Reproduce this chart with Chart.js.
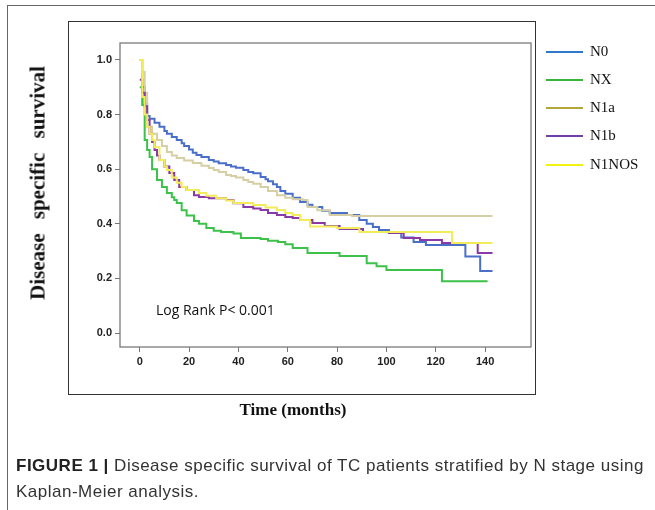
<!DOCTYPE html>
<html>
<head>
<meta charset="utf-8">
<script src="https://cdn.jsdelivr.net/npm/chart.js@4"></script>
<style>
  html, body { margin: 0; padding: 0; background: #fff; }
  #page { position: relative; width: 655px; height: 510px; overflow: hidden; }
  #chart { position: absolute; left: 0; top: 0; }
  .outer-top { position: absolute; left: 7px; top: 5px; width: 648px; height: 0; border-top: 1.5px solid #666; }
  .outer-left { position: absolute; left: 7px; top: 5px; width: 0; height: 505px; border-left: 1.5px solid #666; }
  .inner-frame { position: absolute; left: 68px; top: 21px; width: 466px; height: 372px; border: 1.5px solid #333; }
  .ytitle { position: absolute; left: 38px; top: 183px; transform: translate(-50%, -50%) rotate(-90deg);
    font: bold 21px "Liberation Serif", "Times New Roman", serif; word-spacing: 9px; white-space: nowrap; color: #111; }
  .xtitle { position: absolute; left: 293px; top: 410px; transform: translate(-50%, -50%);
    font: bold 17px "Liberation Serif", "Times New Roman", serif; white-space: nowrap; color: #111; }
  .logrank { position: absolute; left: 156px; top: 300px; font: 14px "Open Sans", sans-serif; color: #111; white-space: nowrap; }
  .legend { position: absolute; left: 546px; top: 0; }
  .legend .item { position: absolute; left: 0; width: 110px; height: 20px; }
  .legend .swatch { position: absolute; left: 0; top: 9px; width: 37px; height: 2px; }
  .legend .label { position: absolute; left: 44px; top: 1px; font: 15px "Liberation Serif", "Times New Roman", serif; color: #111; }
  .caption { position: absolute; left: 16px; top: 453px; width: 645px; font: 17px "Liberation Sans", Arial, sans-serif;
    letter-spacing: 0.5px; line-height: 26px; color: #333; white-space: nowrap; }
  .caption b { color: #222; }
</style>
</head>
<body>
<div id="page">
  <div class="outer-top"></div>
  <div class="outer-left"></div>
  <div class="inner-frame"></div>
  <canvas id="chart" width="655" height="510"></canvas>
  <div class="ytitle">Disease specific survival</div>
  <div class="xtitle">Time (months)</div>
  <div class="logrank">Log Rank P&lt; 0.001</div>
  <div class="legend" id="legend"></div>
  <div class="caption"><b>FIGURE 1 |</b> Disease specific survival of TC patients stratified by N stage using<br>Kaplan-Meier analysis.</div>
</div>
<script>
  "use strict";

  const xTicks = [0, 20, 40, 60, 80, 100, 120, 140];
  const yTicks = [0.0, 0.2, 0.4, 0.6, 0.8, 1.0];

  const seriesNames = ["N0", "NX", "N1a", "N1b", "N1NOS"];

  // (months, survival)
  const n0Time = [0, 1, 2, 3, 4, 6, 8, 10, 11, 13, 15, 17, 18, 20, 21.5, 23, 25, 28, 30, 32, 35, 37, 39, 42, 44, 46, 49, 51, 52, 54, 55.6, 57, 59, 62, 65, 68, 70, 74, 77, 84, 89, 92, 94.5, 97, 101, 106, 111, 116, 132, 138, 143];
  const n0Surv = [1.0, 0.9, 0.84, 0.795, 0.785, 0.77, 0.755, 0.74, 0.73, 0.718, 0.707, 0.695, 0.685, 0.672, 0.66, 0.652, 0.645, 0.634, 0.628, 0.622, 0.615, 0.61, 0.605, 0.597, 0.59, 0.585, 0.571, 0.563, 0.556, 0.545, 0.535, 0.52, 0.51, 0.495, 0.48, 0.47, 0.462, 0.448, 0.44, 0.432, 0.414, 0.4, 0.388, 0.377, 0.366, 0.35, 0.333, 0.322, 0.28, 0.227, 0.227];

  const nxTime = [0, 1, 2, 3, 4, 5, 7, 9, 11, 13, 14, 15, 17, 19, 22, 24, 27, 30, 33, 38, 41, 49, 52, 56, 59, 62, 68, 81, 92, 96, 100, 122.5, 141];
  const nxSurv = [0.9, 0.835, 0.707, 0.67, 0.645, 0.6, 0.56, 0.535, 0.513, 0.497, 0.487, 0.476, 0.45, 0.43, 0.41, 0.4, 0.385, 0.375, 0.37, 0.365, 0.348, 0.344, 0.338, 0.333, 0.325, 0.311, 0.293, 0.282, 0.256, 0.245, 0.231, 0.19, 0.19];

  const n1aTime = [0, 1, 2, 3, 5, 7, 9, 11, 13, 15, 18, 21.5, 25, 28, 30, 32, 35, 37, 39, 42, 44, 46, 49, 52, 55.6, 59, 62, 66, 68, 72, 77, 86, 143];
  const n1aSurv = [1.0, 0.956, 0.88, 0.755, 0.73, 0.707, 0.685, 0.663, 0.65, 0.641, 0.632, 0.623, 0.613, 0.604, 0.597, 0.59, 0.579, 0.575, 0.57, 0.56, 0.553, 0.547, 0.535, 0.52, 0.505, 0.495, 0.49, 0.487, 0.462, 0.45, 0.432, 0.429, 0.429];

  const n1bTime = [0, 1, 2, 3, 4, 5, 6, 7, 8, 10, 12, 14, 16, 19, 22, 24, 28, 35, 38, 42, 46, 49, 52, 55.6, 59, 62, 65, 70, 75, 81, 90.5, 101, 107, 113.6, 122.5, 137, 143];
  const n1bSurv = [0.927, 0.88, 0.83, 0.78, 0.73, 0.7, 0.67, 0.65, 0.634, 0.61, 0.586, 0.56, 0.535, 0.524, 0.505, 0.498, 0.494, 0.487, 0.475, 0.462, 0.456, 0.451, 0.44, 0.432, 0.425, 0.421, 0.414, 0.403, 0.392, 0.381, 0.37, 0.366, 0.348, 0.341, 0.33, 0.293, 0.293];

  const n1nosTime = [0, 1, 2, 3, 4, 5, 6, 8, 10, 11, 13, 15, 17, 19, 24, 27, 31, 35, 38, 46, 51, 55.6, 59, 62, 65, 69, 80, 89, 126.6, 143];
  const n1nosSurv = [1.0, 0.864, 0.8, 0.755, 0.73, 0.707, 0.68, 0.634, 0.61, 0.597, 0.57, 0.55, 0.535, 0.524, 0.513, 0.503, 0.494, 0.485, 0.476, 0.469, 0.46, 0.451, 0.44, 0.432, 0.414, 0.39, 0.385, 0.37, 0.33, 0.33];

  const lineColors = ["#4a6fc9", "#3cc24a", "#d6cfa3", "#8a3aa6", "#f3ec5a"];
  const legendColors = ["#2f7ac8", "#38b538", "#b3a73a", "#7040a8", "#f2f20e"];
  const legendTops = [42, 70, 98, 126, 155];

  function toPoints(times, values) {
    return times.map((t, i) => ({ x: t, y: values[i] }));
  }

  const seriesData = [
    toPoints(n0Time, n0Surv),
    toPoints(nxTime, nxSurv),
    toPoints(n1aTime, n1aSurv),
    toPoints(n1bTime, n1bSurv),
    toPoints(n1nosTime, n1nosSurv)
  ];

  // green first so the others sit on top of it
  const drawOrder = [1, 0, 2, 3, 4];

  const legendBox = document.getElementById("legend");
  seriesNames.forEach((name, i) => {
    const item = document.createElement("div");
    item.className = "item";
    item.style.top = legendTops[i] + "px";
    item.innerHTML = '<div class="swatch" style="background:' + legendColors[i] + '"></div><div class="label">' + name + "</div>";
    legendBox.appendChild(item);
  });

  const plotFrame = {
    id: "plotFrame",
    afterDraw(chart) {
      const a = chart.chartArea;
      const ctx = chart.ctx;
      ctx.save();
      ctx.strokeStyle = "#7a7a7a";
      ctx.lineWidth = 1.3;
      ctx.strokeRect(a.left, a.top, a.right - a.left, a.bottom - a.top);
      ctx.restore();
    }
  };

  new Chart(document.getElementById("chart"), {
    type: "line",
    data: {
      datasets: drawOrder.map((i) => ({
        label: seriesNames[i],
        data: seriesData[i],
        borderColor: lineColors[i],
        borderWidth: 2,
        stepped: true,
        pointRadius: 0,
        fill: false,
        order: drawOrder.length - drawOrder.indexOf(i)
      }))
    },
    options: {
      responsive: false,
      devicePixelRatio: 1,
      animation: false,
      layout: { padding: { left: 0, top: 43, right: 124, bottom: 0 } },
      plugins: {
        legend: { display: false },
        tooltip: { enabled: false }
      },
      scales: {
        x: {
          type: "linear",
          min: -8,
          max: 158.6,
          afterFit: (s) => { s.height = 163; },
          afterBuildTicks: (s) => { s.ticks = xTicks.map((v) => ({ value: v })); },
          border: { display: false },
          grid: { drawOnChartArea: false, drawTicks: true, tickLength: 5, color: "#777" },
          ticks: { padding: 3, color: "#222", font: { family: "Liberation Sans, Arial", size: 11, weight: "bold" } }
        },
        y: {
          type: "linear",
          min: -0.051,
          max: 1.062,
          afterFit: (s) => { s.width = 120; },
          afterBuildTicks: (s) => { s.ticks = yTicks.map((v) => ({ value: v })); },
          border: { display: false },
          grid: { drawOnChartArea: false, drawTicks: true, tickLength: 5, color: "#777" },
          ticks: {
            padding: 3,
            color: "#222",
            font: { family: "Liberation Sans, Arial", size: 11, weight: "bold" },
            callback: (v) => Number(v).toFixed(1)
          }
        }
      }
    },
    plugins: [plotFrame]
  });
</script>
</body>
</html>
